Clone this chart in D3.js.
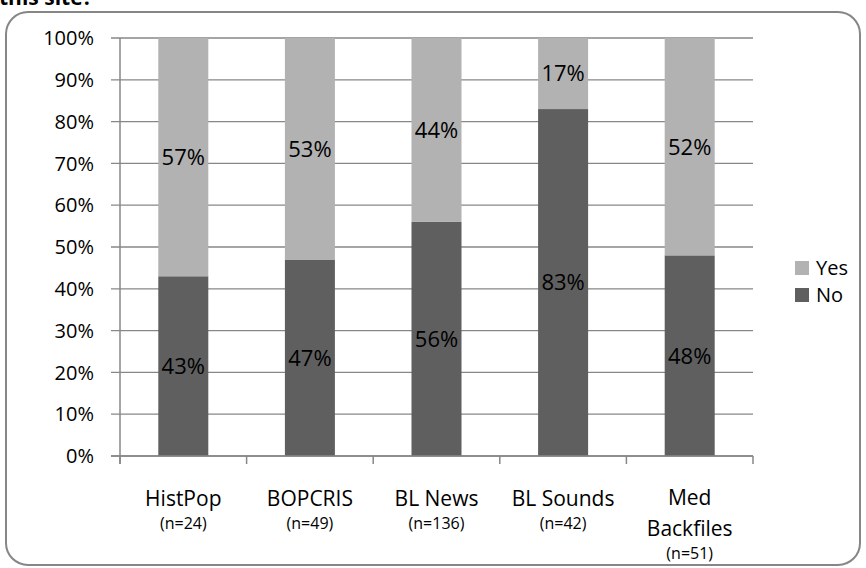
<!DOCTYPE html>
<html>
<head>
<meta charset="utf-8">
<script src="https://cdn.jsdelivr.net/npm/d3@7/dist/d3.min.js"></script>
<style>
  html, body { margin: 0; padding: 0; background: #fff; }
  svg { display: block; font-family: "Open Sans", "DejaVu Sans", sans-serif; }
</style>
</head>
<body>
<svg id="chart" width="866" height="568"></svg>
<script>
// Survey answers per site, stacked to 100%
const categories = ["HistPop", "BOPCRIS", "BL News", "BL Sounds", "Med Backfiles"];
const labelLines = [["HistPop"], ["BOPCRIS"], ["BL News"], ["BL Sounds"], ["Med", "Backfiles"]];
const sampleSizes = ["(n=24)", "(n=49)", "(n=136)", "(n=42)", "(n=51)"];
const noValues = [43, 47, 56, 83, 48];
const yesValues = [57, 53, 44, 17, 52];
const yTicks = [0, 10, 20, 30, 40, 50, 60, 70, 80, 90, 100];
const seriesNames = ["Yes", "No"];
const seriesColors = { Yes: "#b2b2b2", No: "#5f5f5f" };

const svg = d3.select("#chart");
const gridColor = "#878787";

// Question text above the frame (mostly outside the view)
svg.append("text")
  .attr("x", -1).attr("y", 5)
  .attr("font-size", 21).attr("font-weight", "bold")
  .attr("fill", "#000")
  .text("this site?");

// Rounded chart frame
svg.append("rect")
  .attr("x", 6).attr("y", 12)
  .attr("width", 854).attr("height", 553)
  .attr("rx", 22).attr("ry", 22)
  .attr("fill", "#fff")
  .attr("stroke", "#868686").attr("stroke-width", 2);

const plot = { left: 120, right: 753, top: 38, bottom: 456 };

const x = d3.scaleBand()
  .domain(categories)
  .range([plot.left, plot.right])
  .paddingInner(0.605)
  .paddingOuter(0.3025);

const y = d3.scaleLinear().domain([0, 100]).range([plot.bottom, plot.top]);

// Horizontal gridlines with left tick marks
svg.append("g").selectAll("line")
  .data(yTicks)
  .join("line")
  .attr("x1", plot.left - 9).attr("x2", plot.right)
  .attr("y1", d => y(d)).attr("y2", d => y(d))
  .attr("stroke", gridColor).attr("stroke-width", 1.3);

// Y tick labels
svg.append("g").selectAll("text")
  .data(yTicks)
  .join("text")
  .attr("x", plot.left - 26)
  .attr("y", d => y(d))
  .attr("dy", "0.36em")
  .attr("text-anchor", "end")
  .attr("font-size", 20)
  .attr("fill", "#000")
  .text(d => d + "%");

// Stacked bars
const rows = categories.map((c, i) => ({ cat: c, No: noValues[i], Yes: yesValues[i] }));
const stacked = d3.stack().keys(["No", "Yes"])(rows);

const layers = svg.append("g").selectAll("g")
  .data(stacked)
  .join("g")
  .attr("fill", d => seriesColors[d.key]);

layers.selectAll("rect")
  .data(d => d)
  .join("rect")
  .attr("x", d => x(d.data.cat))
  .attr("width", x.bandwidth())
  .attr("y", d => y(d[1]))
  .attr("height", d => y(d[0]) - y(d[1]));

// Value labels centred in each segment
layers.selectAll("text")
  .data(d => d.map(s => ({ s, key: d.key })))
  .join("text")
  .attr("x", d => x(d.s.data.cat) + x.bandwidth() / 2)
  .attr("y", d => y((d.s[0] + d.s[1]) / 2))
  .attr("dy", "0.36em")
  .attr("text-anchor", "middle")
  .attr("font-size", 22)
  .attr("fill", "#000")
  .text(d => d.s.data[d.key] + "%");

// Y axis line and X axis line
svg.append("line")
  .attr("x1", plot.left).attr("x2", plot.left)
  .attr("y1", plot.top).attr("y2", plot.bottom + 8)
  .attr("stroke", gridColor).attr("stroke-width", 1.5);

svg.append("line")
  .attr("x1", plot.left - 9).attr("x2", plot.right)
  .attr("y1", plot.bottom).attr("y2", plot.bottom)
  .attr("stroke", gridColor).attr("stroke-width", 1.5);

// Category boundary ticks
const step = x.step();
svg.append("g").selectAll("line")
  .data(d3.range(categories.length + 1))
  .join("line")
  .attr("x1", i => plot.left + i * step).attr("x2", i => plot.left + i * step)
  .attr("y1", plot.bottom).attr("y2", plot.bottom + 8)
  .attr("stroke", gridColor).attr("stroke-width", 1.5);

// Category labels
const catG = svg.append("g").selectAll("g")
  .data(categories)
  .join("g")
  .attr("transform", d => `translate(${x(d) + x.bandwidth() / 2},0)`);

catG.each(function (d, i) {
  const g = d3.select(this);
  const lines = labelLines[i];
  const baselines = lines.length > 1 ? [505, 536] : [506];
  lines.forEach((t, j) => {
    g.append("text")
      .attr("y", baselines[j])
      .attr("text-anchor", "middle")
      .attr("font-size", 21)
      .attr("fill", "#000")
      .text(t);
  });
  g.append("text")
    .attr("y", lines.length > 1 ? 559 : 529)
    .attr("text-anchor", "middle")
    .attr("font-size", 16)
    .attr("fill", "#000")
    .text(sampleSizes[i]);
});

// Legend
const legend = svg.append("g").selectAll("g")
  .data(seriesNames)
  .join("g")
  .attr("transform", (d, i) => `translate(795,${261 + i * 27})`);

legend.append("rect")
  .attr("width", 14).attr("height", 14)
  .attr("fill", d => seriesColors[d]);

legend.append("text")
  .attr("x", 21).attr("y", 7)
  .attr("dy", "0.36em")
  .attr("font-size", 20)
  .attr("fill", "#000")
  .text(d => d);
</script>
</body>
</html>
